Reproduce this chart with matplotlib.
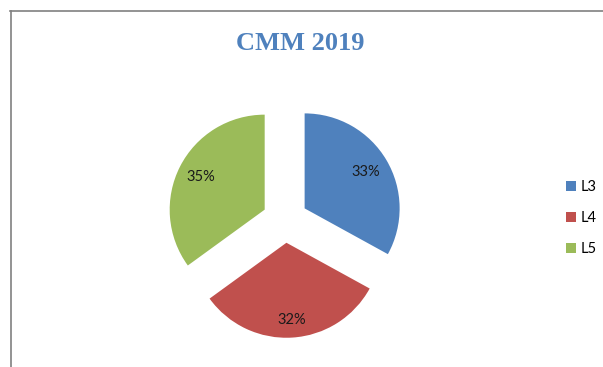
import matplotlib
matplotlib.use("Agg")
import matplotlib.pyplot as plt
from matplotlib.lines import Line2D
from matplotlib.patches import Patch

# CMM 2019 share by level
levels = ["L3", "L4", "L5"]
shares = [33, 32, 35]
colors = ["#4F81BD", "#C0504D", "#9BBB59"]
title = "CMM 2019"

fig = plt.figure(figsize=(6.03, 3.67), dpi=100)
W, H = 603, 367

# square axes, 1 data unit = 95 px, pie centred at (285, 220) px from top
half = 140
R = 95
cx, cy = 285, 220
ax = fig.add_axes([(cx - half) / W, (H - cy - half) / H, 2 * half / W, 2 * half / H])

wedges, texts, autotexts = ax.pie(
    shares,
    colors=colors,
    startangle=90,
    counterclock=False,
    explode=[0.24] * 3,
    autopct="%1.0f%%",
    pctdistance=0.75,
    radius=1,
    textprops=dict(fontsize=10.5, family="Lato", color="#1a1a1a"),
    wedgeprops=dict(linewidth=0),
)
# push the bottom label a bit further out, along its wedge direction
x, y = autotexts[1].get_position()
autotexts[1].set_position((x * 1.07, y * 1.07))

# pie() resets the limits, so set them afterwards
ax.set_xlim(-half / R, half / R)
ax.set_ylim(-half / R, half / R)
ax.axis("off")

fig.text(300 / W, 1 - 43 / H, title, ha="center", va="center",
         fontsize=19, fontweight="bold", family="Liberation Serif", color="#4F81BD")

handles = [Patch(facecolor=c, edgecolor="none") for c in colors]
fig.legend(handles, levels, loc="center left", bbox_to_anchor=(553 / W, 1 - 218 / H),
           frameon=False, handlelength=0.7, handleheight=0.7, handletextpad=0.3,
           labelspacing=1.15, prop=dict(family="Lato", size=10.5))

# partial chart border along top and left
fig.add_artist(Line2D([10 / W, 1], [1 - 11 / H, 1 - 11 / H], color="#808080", lw=1.2))
fig.add_artist(Line2D([11 / W, 11 / W], [0, 1 - 11 / H], color="#808080", lw=1.2))

fig.savefig("out.png", dpi=100)
